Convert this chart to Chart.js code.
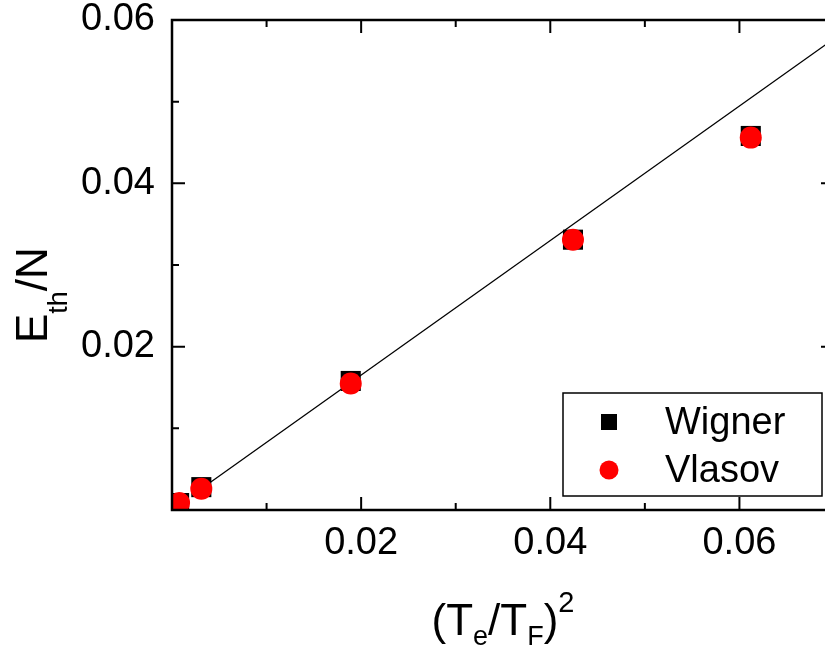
<!DOCTYPE html>
<html>
<head>
<meta charset="utf-8">
<script src="https://cdn.jsdelivr.net/npm/chart.js@4/dist/chart.umd.min.js"></script>
<style>
  html, body { margin: 0; padding: 0; background: #fff; overflow: hidden; }
  #wrap { position: relative; width: 850px; height: 649px; }
</style>
</head>
<body>
<div id="wrap"><canvas id="c"></canvas></div>
<script>
// (Te/TF)^2 sample positions
const tempRatioSq = [0.00075, 0.0031, 0.0189, 0.0424, 0.0612];
// thermal energy per particle, Wigner and Vlasov runs
const wignerEnergy = [0.00085, 0.0028, 0.0158, 0.0331, 0.0458];
const vlasovEnergy = [0.00085, 0.0026, 0.0155, 0.0331, 0.0456];
// straight-line fit, end points
const fitX = [0.0031, 0.07];
const fitY = [0.0026, 0.0577];
// labelled ticks
const xTickLabels = ['0.02', '0.04', '0.06'];
const yTickLabels = ['0.02', '0.04', '0.06'];
const seriesNames = ['Wigner', 'Vlasov'];

const FONT = '"Liberation Sans", Arial, Helvetica, sans-serif';

function pts(xs, ys) { return xs.map((x, i) => ({ x: x, y: ys[i] })); }

function drawRich(ctx, parts, x, y, align) {
  const widths = parts.map(p => { ctx.font = p[1] + 'px ' + FONT; return ctx.measureText(p[0]).width; });
  const total = widths.reduce((a, b) => a + b, 0);
  let cx = align === 'center' ? x - total / 2 : x;
  ctx.textAlign = 'left';
  ctx.textBaseline = 'alphabetic';
  parts.forEach((p, i) => {
    ctx.font = p[1] + 'px ' + FONT;
    ctx.fillText(p[0], cx, y + p[2]);
    cx += widths[i];
  });
}

// frame with inward ticks on all four sides, axis titles and legend box
const framePlugin = {
  id: 'frame',
  afterDraw(chart) {
    const ctx = chart.ctx;
    const a = chart.chartArea;
    const xs = chart.scales.x, ys = chart.scales.y;
    ctx.save();
    ctx.strokeStyle = '#000';
    ctx.fillStyle = '#000';

    ctx.lineWidth = 2;
    for (let i = 0; i <= 7; i++) {
      const px = xs.getPixelForValue(i * 0.01);
      const len = i % 2 === 0 ? 13 : 7;
      ctx.beginPath();
      ctx.moveTo(px, a.bottom); ctx.lineTo(px, a.bottom - len);
      ctx.moveTo(px, a.top); ctx.lineTo(px, a.top + len);
      ctx.stroke();
    }
    for (let i = 0; i <= 6; i++) {
      const py = ys.getPixelForValue(i * 0.01);
      const len = i % 2 === 0 ? 13 : 7;
      ctx.beginPath();
      ctx.moveTo(a.left, py); ctx.lineTo(a.left + len, py);
      ctx.moveTo(a.right, py); ctx.lineTo(a.right - len, py);
      ctx.stroke();
    }
    ctx.lineWidth = 2.5;
    ctx.strokeRect(a.left, a.top, a.right - a.left, a.bottom - a.top);

    // x-axis title
    drawRich(ctx, [['(', 44, 0], ['T', 44, 0], ['e', 27, 10], ['/', 44, 0], ['T', 44, 0], ['F', 27, 10], [')', 44, 0], ['2', 29, -23]],
      (a.left + a.right) / 2, 635, 'center');

    // y-axis title, rotated
    ctx.save();
    ctx.translate(47, 343);
    ctx.rotate(-Math.PI / 2);
    drawRich(ctx, [['E', 44, 0], ['th', 27, 20], ['/N', 44, 0]], 0, 0, 'left');
    ctx.restore();

    // legend
    ctx.fillStyle = '#fff';
    ctx.fillRect(563, 393, 259, 103);
    ctx.lineWidth = 1.5;
    ctx.strokeRect(563, 393, 259, 103);
    ctx.fillStyle = '#000';
    ctx.fillRect(601, 414, 16, 16);
    ctx.fillStyle = '#ff0000';
    ctx.beginPath(); ctx.arc(609, 470, 9.5, 0, Math.PI * 2); ctx.fill();
    ctx.fillStyle = '#000';
    ctx.font = '38px ' + FONT;
    ctx.textAlign = 'left';
    ctx.textBaseline = 'alphabetic';
    ctx.fillText(seriesNames[0], 665, 434);
    ctx.fillText(seriesNames[1], 665, 482);
    ctx.restore();
  }
};

function tickCb(list) {
  return function (value) {
    const s = Number(value).toFixed(2);
    return list.includes(s) ? s : '';
  };
}

new Chart(document.getElementById('c'), {
  type: 'scatter',
  data: {
    datasets: [
      {
        label: seriesNames[1],
        data: pts(tempRatioSq, vlasovEnergy),
        pointStyle: 'circle',
        pointRadius: 11,
        pointBorderWidth: 0,
        backgroundColor: '#ff0000',
        borderColor: '#ff0000',
        clip: 0,
        order: 0
      },
      {
        label: seriesNames[0],
        data: pts(tempRatioSq, wignerEnergy),
        pointStyle: 'rect',
        pointRadius: 14.2,
        pointBorderWidth: 0,
        backgroundColor: '#000',
        borderColor: '#000',
        clip: 0,
        order: 1
      },
      {
        label: 'fit',
        data: pts(fitX, fitY),
        showLine: true,
        pointRadius: 0,
        borderColor: '#000',
        borderWidth: 1.3,
        clip: 0,
        order: 2
      }
    ]
  },
  options: {
    responsive: true,
    maintainAspectRatio: false,
    animation: false,
    events: [],
    layout: { padding: { top: 20, right: 16, left: 0, bottom: 0 } },
    plugins: { legend: { display: false }, tooltip: { enabled: false } },
    scales: {
      x: {
        type: 'linear',
        position: 'bottom',
        min: 0, max: 0.07,
        grid: { display: false, drawTicks: false },
        border: { display: false },
        ticks: {
          stepSize: 0.01, autoSkip: false, maxRotation: 0,
          color: '#000', padding: 11,
          font: { family: FONT, size: 38 },
          callback: tickCb(xTickLabels)
        },
        afterFit(s) { s.height = 139; s.paddingLeft = 0; s.paddingRight = 0; }
      },
      y: {
        type: 'linear',
        position: 'left',
        min: 0, max: 0.06,
        grid: { display: false, drawTicks: false },
        border: { display: false },
        ticks: {
          stepSize: 0.01, autoSkip: false,
          color: '#000', padding: 17,
          font: { family: FONT, size: 38 },
          callback: tickCb(yTickLabels)
        },
        afterFit(s) { s.width = 172; s.paddingTop = 0; s.paddingBottom = 0; }
      }
    }
  },
  plugins: [framePlugin]
});
</script>
</body>
</html>
